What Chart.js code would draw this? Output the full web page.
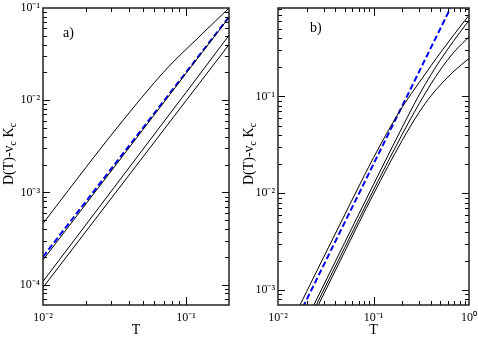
<!DOCTYPE html>
<html><head><meta charset="utf-8">
<script src="https://cdn.jsdelivr.net/npm/chart.js@4/dist/chart.umd.min.js"></script>
<style>
html,body{margin:0;padding:0;background:#fff;}
#wrap{position:relative;width:478px;height:337px;overflow:hidden;background:#fff;}
#chartA{position:absolute;left:0;top:0;}
#chartB{position:absolute;left:240px;top:0;}
</style></head><body>
<div id="wrap">
<canvas id="chartA" width="240" height="337"></canvas>
<canvas id="chartB" width="238" height="337"></canvas>
</div>
<script>
// ---------- Panel a) data ----------
const aT_top = [0.01, 0.015, 0.02, 0.03, 0.04, 0.06, 0.08, 0.1, 0.13, 0.16, 0.2];
const aD_top = [4.6e-4, 1.046e-3, 1.872e-3, 4.185e-3, 7.28e-3, 0.01548, 0.02528, 0.0355, 0.0524, 0.0717, 0.1];
const aT_2 = [0.01, 0.05, 0.1, 0.2];
const aD_2 = [1.85e-4, 4.79e-3, 0.01947, 0.079];
const aT_3 = [0.01, 0.05, 0.1, 0.2];
const aD_3 = [1.08e-4, 2.93e-3, 0.0121, 0.0505];
const aT_4 = [0.01, 0.05, 0.1, 0.2];
const aD_4 = [9.3e-5, 2.42e-3, 9.85e-3, 0.0401];
const aT_blue = [0.01, 0.2];
const aD_blue = [2.0e-4, 0.08];

// ---------- Panel b) data ----------
const bT_1 = [0.015, 0.02, 0.03, 0.05, 0.08, 0.1, 0.12, 0.15, 0.19, 0.25, 0.3, 0.4, 0.5, 0.7, 1.0];
const bD_1 = [5.45e-4, 9.68e-4, 2.18e-3, 6.0e-3, 0.0152, 0.0233, 0.0325, 0.0483, 0.0717, 0.1075, 0.1385, 0.2075, 0.2815, 0.4386, 0.69];
const bT_2 = [0.02, 0.05, 0.1, 0.2, 0.3, 0.4, 0.5, 0.7, 1.0];
const bD_2 = [4.98e-4, 3.1e-3, 0.0123, 0.048, 0.1035, 0.168, 0.2375, 0.382, 0.61];
const bT_3 = [0.02, 0.05, 0.1, 0.2, 0.3, 0.4, 0.5, 0.7, 1.0];
const bD_3 = [4.44e-4, 2.75e-3, 0.0108, 0.0407, 0.084, 0.1347, 0.1878, 0.289, 0.413];
const bT_4 = [0.02, 0.05, 0.1, 0.2, 0.3, 0.4, 0.5, 0.7, 1.0];
const bD_4 = [4.0e-4, 2.5e-3, 0.0098, 0.0352, 0.0684, 0.1016, 0.131, 0.1838, 0.247];
const bT_blue = [0.015, 0.7];
const bD_blue = [4.5e-4, 0.98];

// ---------- axes / ticks ----------
const aXMajor = [0.01, 0.1];            const aXLabels = ['10\u207B\u00B2', '10\u207B\u00B9'];
const aYMajor = [1e-4, 1e-3, 1e-2, 0.1]; const aYLabels = ['10\u207B\u2074', '10\u207B\u00B3', '10\u207B\u00B2', '10\u207B\u00B9'];
const bXMajor = [0.01, 0.1, 1];          const bXLabels = ['10\u207B\u00B2', '10\u207B\u00B9', '10\u2070'];
const bYMajor = [1e-3, 1e-2, 0.1];       const bYLabels = ['10\u207B\u00B3', '10\u207B\u00B2', '10\u207B\u00B9'];
const minorMult = [1, 2, 3, 4, 5, 6, 7, 8, 9];

function logTicks(decades, min, max) {
  const out = [];
  decades.forEach(d => minorMult.forEach(m => {
    const v = parseFloat((m * d).toPrecision(6));
    if (v >= min * 0.999 && v <= max * 1.001) out.push(v);
  }));
  return out;
}
const aXRange = [0.01, 0.2], aYRange = [6e-5, 0.1];
const bXRange = [0.01, 1], bYRange = [7e-4, 0.82];
const aXTicks = logTicks([0.01, 0.1], aXRange[0], aXRange[1]);
const aYTicks = logTicks([1e-5, 1e-4, 1e-3, 1e-2, 0.1], aYRange[0], aYRange[1]);
const bXTicks = logTicks([0.01, 0.1, 1], bXRange[0], bXRange[1]);
const bYTicks = logTicks([1e-4, 1e-3, 1e-2, 0.1], bYRange[0], bYRange[1]);

function pts(T, D) { return T.map((t, i) => ({x: t, y: D[i]})); }
function labelFor(v, majors, labels) {
  for (let i = 0; i < majors.length; i++) {
    if (Math.abs(v - majors[i]) / majors[i] < 1e-6) return labels[i];
  }
  return '';
}
function isMaj(v, majors) { return majors.some(m => Math.abs(v - m) / m < 1e-6); }

const FONT = '"Liberation Serif", "Times New Roman", serif';

const decor = {
  id: 'decor',
  afterDraw(chart, args, o) {
    const ctx = chart.ctx, ca = chart.chartArea;
    const xs = chart.scales.x, ys = chart.scales.y;
    ctx.save();
    ctx.strokeStyle = '#000';
    ctx.lineWidth = 1;
    ctx.beginPath();
    xs.ticks.forEach(t => {
      const p = Math.round(xs.getPixelForValue(t.value)) + 0.5;
      if (p < ca.left + 1 || p > ca.right - 1) return;
      const L = isMaj(t.value, o.xMajor) ? 8 : 4;
      ctx.moveTo(p, ca.bottom); ctx.lineTo(p, ca.bottom - L);
      ctx.moveTo(p, ca.top); ctx.lineTo(p, ca.top + L);
    });
    ys.ticks.forEach(t => {
      const p = Math.round(ys.getPixelForValue(t.value)) + 0.5;
      if (p < ca.top + 1 || p > ca.bottom - 1) return;
      const L = isMaj(t.value, o.yMajor) ? 7 : 4;
      ctx.moveTo(ca.left, p); ctx.lineTo(ca.left + L, p);
      ctx.moveTo(ca.right, p); ctx.lineTo(ca.right - L, p);
    });
    ctx.stroke();
    ctx.lineWidth = 1.5;
    ctx.strokeStyle = '#222';
    ctx.strokeRect(ca.left, ca.top, ca.right - ca.left, ca.bottom - ca.top);
    // panel tag
    ctx.fillStyle = '#000';
    ctx.font = '14px ' + FONT;
    ctx.textAlign = 'left';
    ctx.textBaseline = 'alphabetic';
    ctx.fillText(o.tag, o.tagX, o.tagY);
    // y title with subscripts
    const parts = [['D(T)-v', 14, 0], ['c', 10, 3], [' K', 14, 0], ['c', 10, 3]];
    let total = 0;
    parts.forEach(p => { ctx.font = p[1] + 'px ' + FONT; total += ctx.measureText(p[0]).width; });
    ctx.translate(o.titleX, o.titleY);
    ctx.rotate(-Math.PI / 2);
    let x = -total / 2;
    parts.forEach(p => {
      ctx.font = p[1] + 'px ' + FONT;
      ctx.fillText(p[0], x, p[2]);
      x += ctx.measureText(p[0]).width;
    });
    ctx.restore();
  }
};

function makeChart(id, cfg) {
  const black = (T, D) => ({data: pts(T, D), showLine: true, borderColor: '#000', borderWidth: 1,
    pointRadius: 0, cubicInterpolationMode: 'monotone', fill: false});
  const blue = (T, D) => ({data: pts(T, D), showLine: true, borderColor: '#0000ff', borderWidth: 2,
    borderDash: [6, 3], pointRadius: 0, fill: false});
  const datasets = cfg.blacks.map(b => black(b[0], b[1]));
  datasets.push(blue(cfg.blue[0], cfg.blue[1]));
  return new Chart(document.getElementById(id), {
    type: 'scatter',
    data: {datasets},
    options: {
      responsive: false, animation: false, events: [],
      layout: {padding: {top: 8, right: cfg.padRight, left: 0, bottom: 0}},
      plugins: {legend: {display: false}, tooltip: {enabled: false}, decor: cfg.decor},
      scales: {
        x: {
          type: 'logarithmic', min: cfg.xRange[0], max: cfg.xRange[1],
          afterBuildTicks: s => { s.ticks = cfg.xTicks.map(v => ({value: v})); },
          afterFit: s => { s.height = 32; s.paddingLeft = 0; s.paddingRight = 0; },
          grid: {display: false, drawTicks: false},
          border: {display: false},
          ticks: {autoSkip: false, maxRotation: 0, padding: 6, color: '#000',
            font: {family: FONT, size: 12},
            callback: v => labelFor(v, cfg.xMajor, cfg.xLabels)},
          title: {display: true, text: 'T', color: '#000', padding: 0,
            font: {family: FONT, size: 14, lineHeight: 1}}
        },
        y: {
          type: 'logarithmic', min: cfg.yRange[0], max: cfg.yRange[1],
          afterBuildTicks: s => { s.ticks = cfg.yTicks.map(v => ({value: v})); },
          afterFit: s => { s.width = cfg.yWidth; s.paddingTop = 0; s.paddingBottom = 0; },
          grid: {display: false, drawTicks: false},
          border: {display: false},
          ticks: {autoSkip: false, padding: 3, color: '#000',
            font: {family: FONT, size: 12},
            callback: v => labelFor(v, cfg.yMajor, cfg.yLabels)}
        }
      }
    },
    plugins: [decor]
  });
}

makeChart('chartA', {
  blacks: [[aT_top, aD_top], [aT_2, aD_2], [aT_3, aD_3], [aT_4, aD_4]],
  blue: [aT_blue, aD_blue],
  xRange: aXRange, yRange: aYRange, xTicks: aXTicks, yTicks: aYTicks,
  xMajor: aXMajor, xLabels: aXLabels, yMajor: aYMajor, yLabels: aYLabels,
  padRight: 11, yWidth: 43,
  decor: {xMajor: aXMajor, yMajor: aYMajor, tag: 'a)', tagX: 63, tagY: 37, titleX: 13, titleY: 154}
});
makeChart('chartB', {
  blacks: [[bT_1, bD_1], [bT_2, bD_2], [bT_3, bD_3], [bT_4, bD_4]],
  blue: [bT_blue, bD_blue],
  xRange: bXRange, yRange: bYRange, xTicks: bXTicks, yTicks: bYTicks,
  xMajor: bXMajor, xLabels: bXLabels, yMajor: bYMajor, yLabels: bYLabels,
  padRight: 9, yWidth: 38,
  decor: {xMajor: bXMajor, yMajor: bYMajor, tag: 'b)', tagX: 70, tagY: 32, titleX: 13, titleY: 154}
});
</script>
</body></html>
